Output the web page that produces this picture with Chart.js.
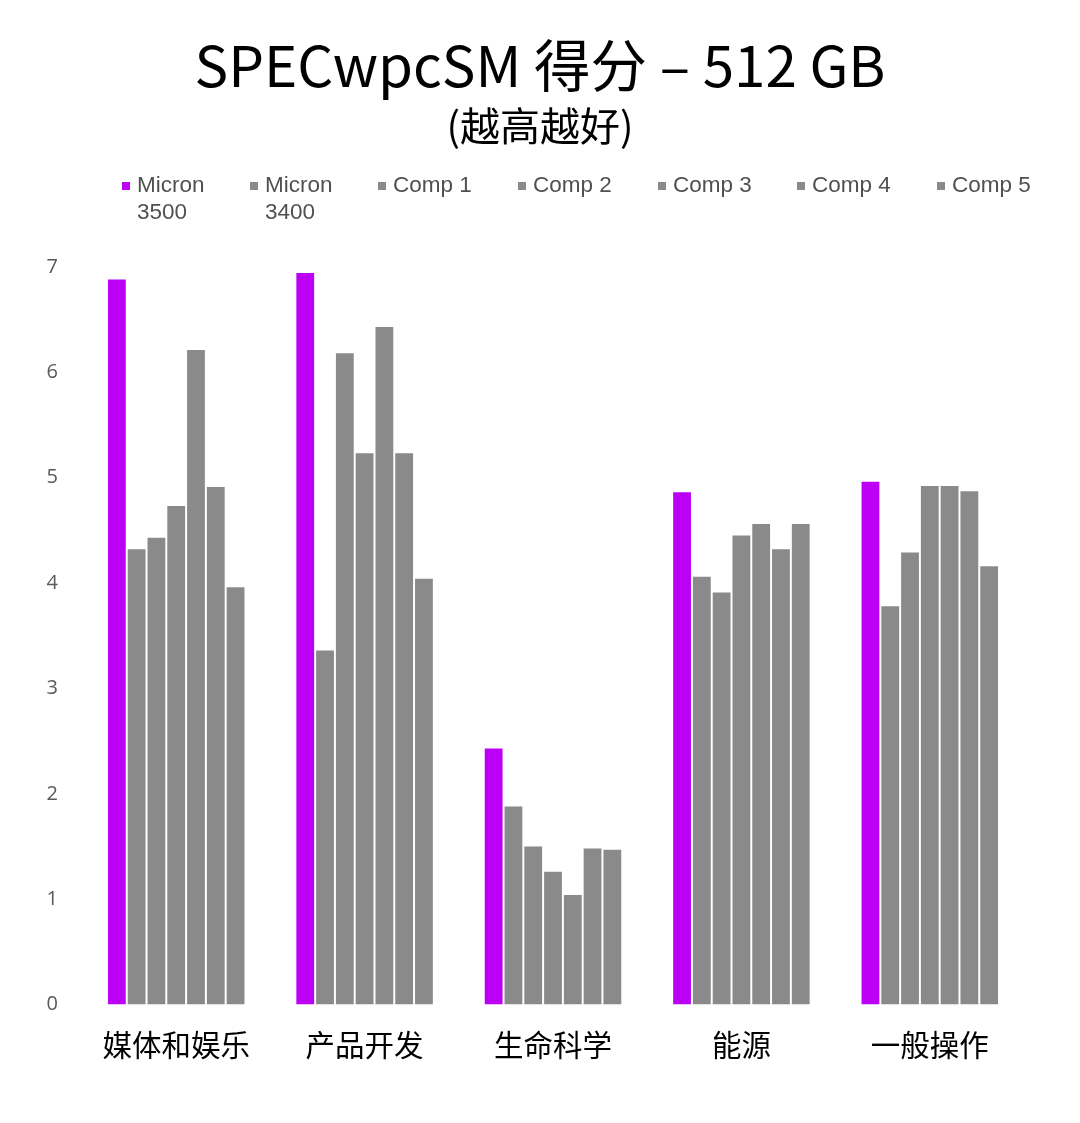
<!DOCTYPE html>
<html>
<head>
<meta charset="utf-8">
<script src="https://cdn.jsdelivr.net/npm/chart.js@4/dist/chart.umd.min.js"></script>
<style>
  html, body { margin: 0; padding: 0; background: #ffffff; }
  #wrap { width: 1080px; height: 1123px; position: relative; }
</style>
</head>
<body>
<div id="wrap"><canvas id="c" width="1080" height="1123"></canvas></div>
<script>
const categories = ['媒体和娱乐', '产品开发', '生命科学', '能源', '一般操作'];
const seriesNames = ['Micron 3500', 'Micron 3400', 'Comp 1', 'Comp 2', 'Comp 3', 'Comp 4', 'Comp 5'];
const micron3500 = [6.88, 6.94, 2.43, 4.86, 4.96];
const micron3400 = [4.32, 3.36, 1.88, 4.06, 3.78];
const comp1 = [4.43, 6.18, 1.50, 3.91, 4.29];
const comp2 = [4.73, 5.23, 1.26, 4.45, 4.92];
const comp3 = [6.21, 6.43, 1.04, 4.56, 4.92];
const comp4 = [4.91, 5.23, 1.48, 4.32, 4.87];
const comp5 = [3.96, 4.04, 1.47, 4.56, 4.16];
const yTicks = [0, 1, 2, 3, 4, 5, 6, 7];

const seriesValues = [micron3500, micron3400, comp1, comp2, comp3, comp4, comp5];
const PURPLE = '#bb00f5';
const GRAY = '#8a8a8a';

const datasets = seriesNames.map((name, i) => ({
  label: name,
  data: seriesValues[i],
  backgroundColor: i === 0 ? PURPLE : GRAY,
  borderWidth: 0,
  barPercentage: 0.9,
  categoryPercentage: 0.735,
  yAxisID: 'y'
}));

// custom legend drawn on canvas (Excel style, small square markers, wrapped labels)
const legendX = [122, 250, 378, 518, 658, 797, 937];
const customLegend = {
  id: 'customLegend',
  afterDraw(chart) {
    const ctx = chart.ctx;
    ctx.save();
    ctx.font = '22.5px "Liberation Sans", Arial, sans-serif';
    ctx.textBaseline = 'middle';
    ctx.textAlign = 'left';
    chart.data.datasets.forEach((ds, i) => {
      const x = legendX[i];
      const y = 186;
      ctx.fillStyle = ds.backgroundColor;
      ctx.fillRect(x, y - 4, 8, 8);
      const words = ds.label.split(' ');
      let lines = [ds.label];
      if (ctx.measureText(ds.label).width > 95) {
        lines = [];
        let cur = '';
        words.forEach(w => {
          const t = cur ? cur + ' ' + w : w;
          if (ctx.measureText(t).width > 95 && cur) { lines.push(cur); cur = w; }
          else cur = t;
        });
        if (cur) lines.push(cur);
      }
      ctx.fillStyle = '#505050';
      lines.forEach((ln, k) => ctx.fillText(ln, x + 15, y + k * 27));
    });
    ctx.restore();
  }
};

new Chart(document.getElementById('c'), {
  type: 'bar',
  data: { labels: categories, datasets },
  plugins: [customLegend],
  options: {
    responsive: false,
    animation: false,
    layout: { padding: { left: 40, right: 40, top: 0, bottom: 39 } },
    plugins: {
      legend: { display: false },
      tooltip: { enabled: false },
      title: {
        display: true,
        text: 'SPECwpcSM 得分 – 512 GB',
        color: '#000000',
        font: { family: '"Noto Sans CJK SC", "Noto Sans", sans-serif', size: 56.5, weight: 'normal' },
        padding: { top: 32, bottom: 0 }
      },
      subtitle: {
        display: true,
        text: '(越高越好)',
        color: '#000000',
        font: { family: '"Noto Sans CJK SC", "Noto Sans", sans-serif', size: 40, weight: 'normal' },
        padding: { top: 2, bottom: 117 }
      }
    },
    scales: {
      x: {
        grid: { display: false, drawTicks: false },
        border: { display: false },
        ticks: {
          color: '#000000',
          font: { family: '"Noto Sans CJK SC", sans-serif', size: 29.5 },
          padding: 22
        }
      },
      y: {
        position: 'left',
        min: 0,
        max: 7,
        afterBuildTicks(axis) { axis.ticks = yTicks.map(v => ({ value: v })); },
        afterFit(scale) { scale.width = 42; },
        grid: { display: false, drawTicks: false },
        border: { display: false },
        ticks: {
          color: '#595959',
          font: { family: '"Open Sans", sans-serif', size: 20 },
          padding: 24
        }
      },
      yRight: {
        position: 'right',
        min: 0,
        max: 7,
        afterFit(scale) { scale.width = 16; },
        grid: { display: false, drawTicks: false },
        border: { display: false },
        ticks: { display: false }
      }
    }
  }
});
</script>
</body>
</html>
